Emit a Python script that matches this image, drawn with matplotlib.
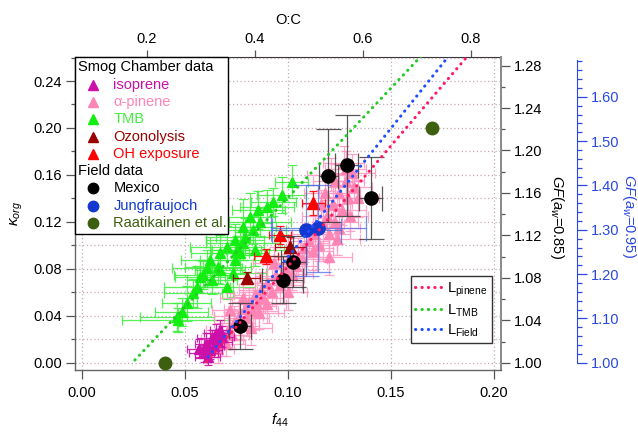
import numpy as np
import matplotlib
matplotlib.use('Agg')
import matplotlib.pyplot as plt
from matplotlib.lines import Line2D
from matplotlib.patches import Rectangle
from matplotlib.ticker import MultipleLocator, FormatStrFormatter

plt.rcParams['font.family'] = ['Liberation Sans', 'DejaVu Sans']
plt.rcParams['mathtext.fontset'] = 'custom'
plt.rcParams['mathtext.rm'] = 'Liberation Sans'
plt.rcParams['mathtext.it'] = 'Liberation Sans:italic'
plt.rcParams['mathtext.bf'] = 'Liberation Sans:bold'

# ---------------- data ----------------
tmb_f44 = [0.0460, 0.0466, 0.0484, 0.0508, 0.0540, 0.0557, 0.0573, 0.0589, 0.0605, 0.0621, 0.0630,
           0.0662, 0.0670, 0.0670, 0.0702, 0.0702, 0.0735, 0.0743, 0.0743, 0.0751, 0.0767, 0.0783,
           0.0783, 0.0791, 0.0816, 0.0832, 0.0840, 0.0856, 0.0864, 0.0897, 0.0929, 0.0969, 0.1018]
tmb_kappa = [0.0392, 0.0364, 0.0435, 0.0506, 0.0591, 0.0648, 0.0733, 0.0747, 0.0804, 0.0875, 0.0705,
             0.0818, 0.0932, 0.0790, 0.0988, 0.0645, 0.0762, 0.1046, 0.0875, 0.0960, 0.0932, 0.1159,
             0.1017, 0.1074, 0.1244, 0.1131, 0.0960, 0.1301, 0.1201, 0.1329, 0.1372, 0.1429, 0.1542]
tmb_xerr = [0.018, 0.027, 0.013, 0.012, 0.014, 0.016, 0.012, 0.014, 0.017, 0.014, 0.012,
            0.016, 0.014, 0.012, 0.018, 0.014, 0.016, 0.014, 0.017, 0.012, 0.014, 0.016,
            0.018, 0.014, 0.012, 0.016, 0.014, 0.013, 0.015, 0.013, 0.011, 0.012, 0.008]
tmb_yerr = [0.012, 0.010, 0.012, 0.015, 0.012, 0.018, 0.014, 0.012, 0.016, 0.020, 0.012,
            0.014, 0.016, 0.012, 0.018, 0.010, 0.020, 0.014, 0.016, 0.012, 0.018, 0.024,
            0.014, 0.016, 0.020, 0.012, 0.014, 0.016, 0.012, 0.014, 0.012, 0.015, 0.014]

pin_f44 = [0.066, 0.068, 0.070, 0.071, 0.073, 0.074, 0.076, 0.077, 0.079, 0.080, 0.081, 0.083,
           0.084, 0.085, 0.087, 0.088, 0.090, 0.092, 0.094, 0.096, 0.099, 0.102, 0.105, 0.108,
           0.110, 0.113, 0.115, 0.117, 0.119, 0.120, 0.122, 0.123, 0.125, 0.126, 0.128, 0.129,
           0.131, 0.132, 0.127, 0.121, 0.118, 0.124,
           0.072, 0.078, 0.082, 0.086, 0.090, 0.093, 0.097, 0.100, 0.104, 0.107, 0.112, 0.116,
           0.120, 0.125, 0.130, 0.134, 0.123, 0.128]
pin_kappa = [0.012, 0.020, 0.016, 0.028, 0.024, 0.034, 0.040, 0.031, 0.046, 0.038, 0.052, 0.044,
             0.058, 0.050, 0.062, 0.055, 0.068, 0.060, 0.074, 0.066, 0.080, 0.076, 0.090, 0.098,
             0.104, 0.110, 0.100, 0.118, 0.125, 0.110, 0.135, 0.120, 0.145, 0.130, 0.155, 0.140,
             0.162, 0.150, 0.170, 0.160, 0.145, 0.105,
             0.045, 0.055, 0.030, 0.042, 0.050, 0.085, 0.072, 0.060, 0.082, 0.088, 0.095, 0.135,
             0.090, 0.115, 0.125, 0.140, 0.155, 0.165]
pin_xerr = [0.008, 0.010, 0.009, 0.011, 0.008, 0.010, 0.012, 0.009, 0.010, 0.011, 0.008, 0.012,
            0.010, 0.009, 0.011, 0.010, 0.012, 0.009, 0.010, 0.011, 0.009, 0.010, 0.012, 0.009,
            0.010, 0.011, 0.009, 0.010, 0.012, 0.010, 0.009, 0.011, 0.010, 0.012, 0.009, 0.010,
            0.011, 0.009, 0.010, 0.012, 0.010, 0.011,
            0.009, 0.011, 0.010, 0.012, 0.009, 0.010, 0.011, 0.009, 0.010, 0.012, 0.010, 0.009,
            0.011, 0.010, 0.009, 0.010, 0.011, 0.010]
pin_yerr = [0.012, 0.014, 0.010, 0.015, 0.012, 0.014, 0.016, 0.012, 0.014, 0.015, 0.012, 0.016,
            0.014, 0.012, 0.015, 0.013, 0.016, 0.012, 0.014, 0.015, 0.013, 0.014, 0.016, 0.012,
            0.014, 0.015, 0.013, 0.016, 0.014, 0.012, 0.015, 0.014, 0.016, 0.013, 0.015, 0.014,
            0.016, 0.013, 0.015, 0.014, 0.016, 0.013,
            0.014, 0.012, 0.015, 0.013, 0.016, 0.014, 0.012, 0.015, 0.013, 0.014, 0.016, 0.012,
            0.015, 0.014, 0.013, 0.016, 0.014, 0.015]

iso_f44 = [0.057, 0.059, 0.060, 0.062, 0.063, 0.064, 0.065, 0.066, 0.067, 0.068, 0.061]
iso_kappa = [0.012, 0.008, 0.016, 0.011, 0.021, 0.014, 0.025, 0.018, 0.028, 0.022, 0.005]
iso_xerr = [0.006, 0.007, 0.005, 0.006, 0.007, 0.005, 0.006, 0.007, 0.005, 0.006, 0.006]
iso_yerr = [0.008, 0.007, 0.009, 0.008, 0.007, 0.009, 0.008, 0.007, 0.008, 0.009, 0.007]

ozo_f44 = [0.0800, 0.1010]
ozo_kappa = [0.0725, 0.0990]
ozo_xerr = [0.0065, 0.0075]
ozo_yerr = [0.005, 0.008]

oh_f44 = [0.0893, 0.0961, 0.1123]
oh_kappa = [0.0905, 0.1088, 0.1360]
oh_xerr = [0.0060, 0.0055, 0.0057]
oh_yerr = [0.006, 0.008, 0.010]

mex_f44 = [0.0767, 0.0974, 0.1026, 0.1196, 0.1285, 0.1401]
mex_kappa = [0.0313, 0.0705, 0.0861, 0.1595, 0.1682, 0.1406]
mex_xerr = [0.0055, 0.0100, 0.0060, 0.0045, 0.0055, 0.0055]
mex_yerr = [0.020, 0.020, 0.022, 0.040, 0.043, 0.035]

jfj_f44 = [0.1088, 0.1147]
jfj_kappa = [0.1128, 0.1145]
jfj_xerr = [0.0167, 0.0230]
jfj_yerr = [0.039, 0.037]

raa_f44 = [0.0403, 0.1698]
raa_kappa = [0.0000, 0.1997]

# fitted lines: kappa = slope * f44 + intercept, drawn from f44_start
line_names = ['pinene', 'TMB', 'Field']
line_slope = [2.055, 1.864, 2.195]
line_intercept = [-0.1234, -0.0456, -0.1295]
line_start = [0.0605, 0.0257, 0.0613]

# ---------------- style ----------------
c_iso = '#cc10a8'
c_pin = '#ff85b5'
c_tmb = '#12ee12'
c_ozo = '#990000'
c_oh = '#ff0000'
c_mex = '#000000'
c_jfj = '#1238d0'
c_raa = '#3d6010'
line_cols = ['#ff1a66', '#22cc22', '#1f4fff']
c_blue_ax = '#2a48e0'

fig = plt.figure(figsize=(6.38, 4.33), dpi=100)
W, H = 638.0, 433.0
ax = fig.add_axes([75 / W, 1 - 370 / H, 426 / W, 312.7 / H])
ax.set_xlim(-0.0034, 0.2034)
ax.set_ylim(-0.0062, 0.2602)

# grid
ax.set_xticks([0.0, 0.05, 0.10, 0.15, 0.20])
ax.xaxis.set_major_formatter(FormatStrFormatter('%.2f'))
ax.yaxis.set_major_locator(MultipleLocator(0.04))
ax.yaxis.set_minor_locator(MultipleLocator(0.02))
ax.yaxis.set_major_formatter(FormatStrFormatter('%.2f'))
ax.grid(True, axis='x', which='major', ls=(0, (1, 2)), color='#c4aab4', lw=0.9, zorder=0)
ax.grid(True, axis='y', which='both', ls=(0, (1, 2)), color='#c4aab4', lw=0.9, zorder=0)
ax.set_axisbelow(True)

ax.tick_params(axis='both', which='major', direction='out', length=6.5, width=0.9,
               color='#555555', labelsize=10.5, pad=3)
ax.tick_params(axis='y', which='minor', direction='out', length=3, width=0.9, color='#555555')
ax.tick_params(axis='x', which='major', pad=5)
for s in ['left', 'bottom']:
    ax.spines[s].set_color('#666666')
    ax.spines[s].set_linewidth(1.0)
ax.spines['right'].set_visible(False)
ax.spines['top'].set_visible(False)


def draw_series(xs, ys, xe, ye, mk, mcol, ecol, ms, ealpha, cap, z):
    ax.errorbar(xs, ys, xerr=xe, yerr=ye, fmt='none', ecolor=ecol, elinewidth=0.9,
                capsize=cap, capthick=0.9, alpha=ealpha, zorder=z)
    ax.plot(xs, ys, ls='none', marker=mk, ms=ms, color=mcol, mec=mcol, zorder=z + 0.1)


draw_series(tmb_f44, tmb_kappa, tmb_xerr, tmb_yerr, '^', c_tmb, '#3cee3c', 7, 0.85, 3.5, 3)
draw_series(pin_f44, pin_kappa, pin_xerr, pin_yerr, '^', c_pin, '#ff9ac4', 7, 0.9, 3.5, 4)
draw_series(iso_f44, iso_kappa, iso_xerr, iso_yerr, '^', c_iso, c_iso, 7, 0.9, 3, 5)
draw_series(ozo_f44, ozo_kappa, ozo_xerr, ozo_yerr, '^', c_ozo, c_ozo, 8, 0.9, 3, 6)
draw_series(oh_f44, oh_kappa, oh_xerr, oh_yerr, '^', c_oh, c_oh, 8, 0.9, 3, 6)
draw_series(mex_f44, mex_kappa, mex_xerr, mex_yerr, 'o', c_mex, '#3a3a3a', 9.5, 0.85, 9, 7)
draw_series(jfj_f44, jfj_kappa, jfj_xerr, jfj_yerr, 'o', c_jfj, '#4a6ae0', 9.5, 0.75, 9, 7)
ax.plot(raa_f44, raa_kappa, ls='none', marker='o', ms=9, color=c_raa, zorder=7.5, clip_on=False)

line_handles = []
for name, sl, ic, x0, col in zip(line_names, line_slope, line_intercept, line_start, line_cols):
    xs = np.linspace(x0, 0.2034, 50)
    ax.plot(xs, sl * xs + ic, ls=(0, (0.1, 2.0)), lw=2.2, color=col,
            dash_capstyle='round', zorder=9)
    line_handles.append(Line2D([], [], ls=(0, (0.1, 2.0)), lw=2.2, color=col,
                               dash_capstyle='round', label=r'L$_{\mathrm{%s}}$' % name))

lg = ax.legend(handles=line_handles, loc='lower right', bbox_to_anchor=(0.979, 0.086),
               fontsize=10.5, handlelength=1.9, handletextpad=0.3, labelspacing=0.25,
               borderpad=0.3, borderaxespad=0, frameon=True, fancybox=False,
               edgecolor='#333333', framealpha=1)
lg.get_frame().set_linewidth(1.0)
lg.set_zorder(20)

# secondary axes
oc_f = lambda f: 3.82 * f + 0.0794
oc_i = lambda o: (o - 0.0794) / 3.82
top = ax.secondary_xaxis('top', functions=(oc_f, oc_i))
top.set_xticks([0.2, 0.4, 0.6, 0.8])
top.xaxis.set_major_formatter(FormatStrFormatter('%.1f'))
top.tick_params(direction='out', length=5, width=0.9, color='#555555', labelsize=10.5, pad=3)
top.spines['top'].set_color('#333333')
top.set_xlabel('O:C', fontsize=10.5, labelpad=6)

g85_f = lambda k: 1 + np.asarray(k) / 0.904
g85_i = lambda g: (np.asarray(g) - 1) * 0.904
gf1 = ax.secondary_yaxis('right', functions=(g85_f, g85_i))
gf1.set_yticks(np.round(np.arange(1.00, 1.2801, 0.04), 2))
gf1.yaxis.set_minor_locator(MultipleLocator(0.02))
gf1.yaxis.set_major_formatter(FormatStrFormatter('%.2f'))
gf1.tick_params(which='major', direction='out', length=6.5, width=0.9, color='#555555',
                labelsize=10.5, pad=3)
gf1.tick_params(which='minor', direction='out', length=3, width=0.9, color='#555555')
gf1.spines['right'].set_color('#888888')
gf1.spines['right'].set_linewidth(1.4)

g95_f = lambda k: 1 + np.asarray(k) / 0.3775
g95_i = lambda g: (np.asarray(g) - 1) * 0.3775
gf2 = ax.secondary_yaxis((576.7 - 75) / 426, functions=(g95_f, g95_i))
gf2.set_yticks(np.round(np.arange(1.00, 1.601, 0.10), 2))
gf2.yaxis.set_minor_locator(MultipleLocator(0.02))
gf2.yaxis.set_major_formatter(FormatStrFormatter('%.2f'))
gf2.tick_params(which='major', direction='out', length=7, width=0.9, color=c_blue_ax,
                labelsize=10.5, labelcolor=c_blue_ax, pad=3)
gf2.tick_params(which='minor', direction='out', length=3.5, width=0.9, color=c_blue_ax)
gf2.spines['right'].set_color(c_blue_ax)
gf2.spines['right'].set_bounds(1.0, 1.683)

# axis labels
ax.set_xlabel(r'$f_{\mathit{44}}$', fontsize=11)
ax.xaxis.set_label_coords((280 - 75) / 426, (370 - 412) / 312.7)
ax.set_ylabel(r'$\kappa_{\mathit{org}}$', fontsize=11)
ax.yaxis.set_label_coords((25 - 75) / 426, 0.5)
fig.text(557 / W, 1 - 217 / H, r'$GF(a_w$=0.85)', rotation=270, ha='center', va='center',
         fontsize=10.5, color='black')
fig.text(629 / W, 1 - 216 / H, r'$GF(a_w$=0.95)', rotation=270, ha='center', va='center',
         fontsize=10.5, color=c_blue_ax)

# manual legend (left)
leg_rows = [('Smog Chamber data', None, None, 'black'),
            ('isoprene', '^', c_iso, c_iso),
            ('α-pinene', '^', c_pin, c_pin),
            ('TMB', '^', c_tmb, '#44ee44'),
            ('Ozonolysis', '^', c_ozo, c_ozo),
            ('OH exposure', '^', c_oh, c_oh),
            ('Field data', None, None, 'black'),
            ('Mexico', 'o', c_mex, 'black'),
            ('Jungfraujoch', 'o', c_jfj, c_jfj),
            ('Raatikainen et al.', 'o', c_raa, c_raa)]
fig.add_artist(Rectangle((75 / W, 1 - 233.5 / H), (227.7 - 75) / W, (233.5 - 57.3) / H,
                         transform=fig.transFigure, fc='white', ec='black', lw=1.0, zorder=5))
row_y0, row_dy = 67.3, 17.3
for i, (lab, mk, mc, tc) in enumerate(leg_rows):
    py = row_y0 + i * row_dy
    fy = 1 - py / H
    if mk is None:
        fig.text(78 / W, fy, lab, fontsize=10.5, color=tc, va='center', ha='left', zorder=7)
    else:
        fig.add_artist(Line2D([93.3 / W], [fy], transform=fig.transFigure, ls='none',
                              marker=mk, ms=7 if mk == '^' else 7.5, color=mc, zorder=6))
        fig.text(113.3 / W, fy, lab, fontsize=10.5, color=tc, va='center', ha='left', zorder=7)

fig.savefig('out.png', dpi=100)
